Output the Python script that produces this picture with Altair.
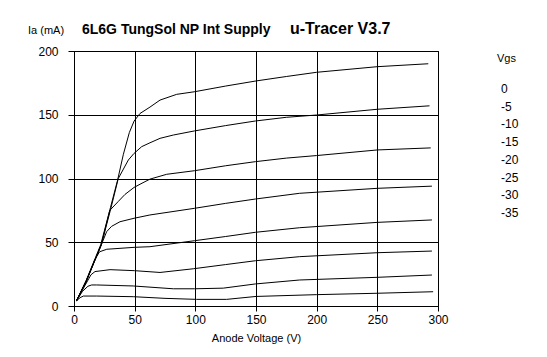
import altair as alt
import pandas as pd

# Vgs curve data (Anode voltage V, anode current mA)
V0 = [2, 10, 22, 30, 36, 40.7, 45.6, 49.5, 54.4, 62.6, 70.9, 84.6, 99, 125, 150, 175, 200, 250, 292]
I0 = [4, 20, 48, 77, 99, 119, 136, 145, 151, 156, 161.5, 166, 168, 172.5, 176.5, 180, 183.3, 187.7, 190]

V1 = [2, 10, 22.5, 30.5, 36.5, 44.8, 49.5, 55.8, 62.6, 70.9, 81.9, 99.2, 125, 149.5, 175, 200, 250, 293]
I1 = [4, 19.5, 48, 77, 100, 114.5, 119.7, 125, 128, 131.5, 134.1, 137.3, 141.5, 145.1, 148, 149.8, 154.3, 157]

V2 = [2, 10, 22.5, 29.5, 36.5, 42, 49.5, 54.4, 62.6, 76.4, 99.2, 125, 149.5, 175, 200, 250, 294]
I2 = [4, 19.5, 48, 75, 82, 87.5, 93, 95.5, 99.5, 103.3, 106.1, 110, 113.2, 116, 118, 122.4, 124]

V3 = [2, 10, 22.5, 26.9, 31, 37.9, 49.5, 62.6, 99.2, 125, 149.5, 186, 250, 295]
I3 = [4, 19, 48, 58.3, 62.5, 66.1, 68.8, 71.4, 76.6, 80.5, 83.9, 88.4, 92.3, 94]

V4 = [2, 10, 17, 21, 27, 49.5, 62.6, 99.2, 125, 149.5, 186, 250, 295]
I4 = [4, 19, 36, 42.5, 44.5, 46, 46.5, 51.2, 54.5, 57.8, 61.4, 65.6, 67.5]

V5 = [2, 9, 14, 17.3, 29.7, 50, 70.9, 98.3, 125, 149.5, 186, 250, 295]
I5 = [4, 16, 24.5, 27, 28.5, 27.7, 26.3, 29.2, 32.5, 35.5, 38.7, 41.8, 43.1]

V6 = [2, 7, 11.5, 14.6, 18.7, 48.9, 81.9, 99.2, 123, 149.5, 186, 250, 295]
I6 = [4, 11.5, 15.5, 16.5, 16.5, 15.7, 13.5, 13.5, 14, 17.3, 20.4, 22.5, 24.3]

V7 = [2, 5, 7.7, 18.7, 48.9, 75, 101, 125.8, 150, 200, 250, 296]
I7 = [4, 6.5, 7.8, 7.8, 7.3, 6, 5.2, 5.2, 7.5, 8.9, 10, 11.2]

vgs_labels = ["0", "-5", "-10", "-15", "-20", "-25", "-30", "-35"]
x_ticks = [0, 50, 100, 150, 200, 250, 300]
y_ticks = [0, 50, 100, 150, 200]

curves = [(V0, I0), (V1, I1), (V2, I2), (V3, I3), (V4, I4), (V5, I5), (V6, I6), (V7, I7)]
rows = []
for k, (vs, is_) in enumerate(curves):
    for j, (v, i) in enumerate(zip(vs, is_)):
        rows.append({"V": v, "I": i, "Vgs": vgs_labels[k], "order": j})
df = pd.DataFrame(rows)

FONT = "Liberation Sans"

lines = alt.Chart(df).mark_line(color="black", strokeWidth=1).encode(
    x=alt.X("V:Q", scale=alt.Scale(domain=[0, 300], nice=False),
            axis=alt.Axis(values=x_ticks, title="Anode Voltage (V)", grid=True, labelFlush=False)),
    y=alt.Y("I:Q", scale=alt.Scale(domain=[0, 200], nice=False),
            axis=alt.Axis(values=y_ticks, title=None, grid=True, tickSize=6, labelPadding=10,
                          labelFlush=False)),
    detail="Vgs:N",
    order="order:Q",
)

legend_df = pd.DataFrame({"lab": vgs_labels, "pos": list(range(len(vgs_labels)))})
legend = alt.Chart(legend_df).mark_text(align="left", baseline="middle", font=FONT, fontSize=12,
                                         color="black").encode(
    x=alt.value(427),
    y=alt.Y("pos:Q", scale=alt.Scale(domain=[0, 7], range=[38, 162]), axis=None),
    text="lab:N",
)

def label(t, x, y, size=11, weight="normal"):
    return alt.Chart(pd.DataFrame({"t": [t]})).mark_text(
        align="left", baseline="middle", font=FONT, fontSize=size, fontWeight=weight, color="black"
    ).encode(text="t:N", x=alt.value(x), y=alt.value(y))

title1 = label("6L6G TungSol NP Int Supply", 8, -21, 14, "bold")
title2 = label("u-Tracer V3.7", 216, -22, 16, "bold")
ylab = label("Ia (mA)", -46, -20, 11)
vgs = label("Vgs", 423, 8, 11)

chart = alt.layer(lines, legend, title1, title2, ylab, vgs).resolve_scale(y="independent").properties(
    width=364, height=255,
    autosize=alt.AutoSizeParams(type="none"),
    padding={"left": 66, "top": 43, "right": 100, "bottom": 40},
).configure_view(stroke="black", strokeWidth=1).configure_axis(
    gridColor="black", gridOpacity=1, gridWidth=1,
    domainColor="black", tickColor="black",
    labelFont=FONT, labelFontSize=12, labelColor="black",
    titleFont=FONT, titleFontSize=11, titleFontWeight="normal", titleColor="black",
).configure_axisX(tickSize=5, labelPadding=3, titlePadding=7)

chart.save("out.html", embed_options={"renderer": "svg", "actions": False})
